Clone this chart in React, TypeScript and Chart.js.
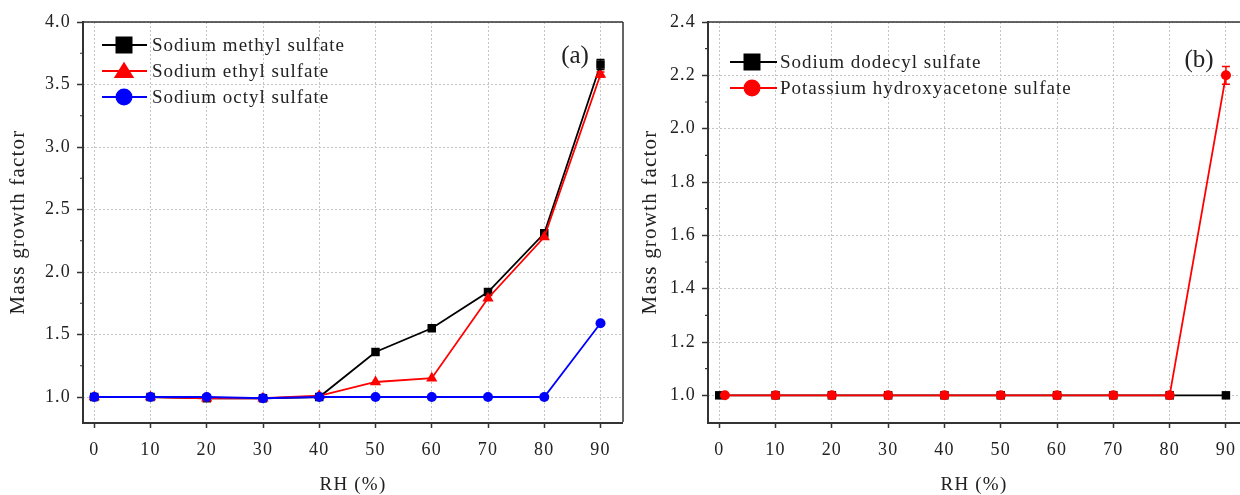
import React, { useEffect, useRef } from 'react';
import { Chart, registerables } from 'chart.js';

Chart.register(...registerables);

// ---------- data ----------
const rhTicks = [0, 10, 20, 30, 40, 50, 60, 70, 80, 90];

// Panel (a)
const rhA = [0, 10, 20, 30, 40, 50, 60, 70, 80, 90];
const methylSulfate = [1.0, 1.0, 0.99, 0.99, 1.0, 1.36, 1.55, 1.84, 2.31, 3.66];
const methylErr = [0, 0, 0, 0, 0, 0, 0, 0, 0, 0.04];
const ethylSulfate = [1.0, 1.0, 0.99, 0.99, 1.01, 1.12, 1.15, 1.79, 2.28, 3.58];
const ethylErr = [0, 0, 0, 0, 0, 0, 0, 0, 0, 0.02];
const octylSulfate = [1.0, 1.0, 1.0, 0.99, 1.0, 1.0, 1.0, 1.0, 1.0, 1.59];
const yTicksA = [1.0, 1.5, 2.0, 2.5, 3.0, 3.5, 4.0];

// Panel (b)
const rhSds = [0, 10, 20, 30, 40, 50, 60, 70, 80, 90];
const dodecylSulfate = [1.0, 1.0, 1.0, 1.0, 1.0, 1.0, 1.0, 1.0, 1.0, 1.0];
const rhHyd = [1, 10, 20, 30, 40, 50, 60, 70, 80, 90];
const hydroxyacetoneSulfate = [1.0, 1.0, 1.0, 1.0, 1.0, 1.0, 1.0, 1.0, 1.0, 2.2];
const hydroxyErr = [0, 0, 0, 0, 0, 0, 0, 0, 0, 0.033];
const yTicksB = [1.0, 1.2, 1.4, 1.6, 1.8, 2.0, 2.2, 2.4];

const labelsA = ['Sodium methyl sulfate', 'Sodium ethyl sulfate', 'Sodium octyl sulfate'];
const labelsB = ['Sodium dodecyl sulfate', 'Potassium hydroxyacetone sulfate'];

// ---------- styles ----------
const FONT = "'Liberation Serif', 'Times New Roman', serif";
const TEXT = '#222';
const AXIS = '#333';
const SPACING = '1.2px';

const toPts = (xs: number[], ys: number[]) => xs.map((x, i) => ({ x, y: ys[i] }));

type LegendCfg = { rows: number[]; lineX: [number, number]; markerX: number; textX: number };
type PanelCfg = {
  xMin: number; xMax: number; yMin: number; yMax: number;
  yTicks: number[]; yDigits: number;
  yWidth: number; padRight: number; yTitlePad: number;
  legend: LegendCfg; tag: string; tagX: number; tagY: number;
  rightBorder: boolean;
  datasets: any[];
};

function drawMarker(ctx: CanvasRenderingContext2D, style: string, x: number, y: number, s: number, color: string) {
  ctx.fillStyle = color;
  ctx.beginPath();
  if (style === 'rect') {
    ctx.rect(x - s / 2, y - s / 2, s, s);
  } else if (style === 'triangle') {
    const h = s * 0.9;
    ctx.moveTo(x, y - h * 0.6);
    ctx.lineTo(x + s * 0.6, y + h * 0.45);
    ctx.lineTo(x - s * 0.6, y + h * 0.45);
    ctx.closePath();
  } else {
    ctx.arc(x, y, s / 2, 0, Math.PI * 2);
  }
  ctx.fill();
}

const spacingPlugin = {
  id: 'spacing',
  beforeUpdate(chart: any) { chart.ctx.letterSpacing = SPACING; },
  beforeDraw(chart: any) { chart.ctx.letterSpacing = SPACING; },
};

const decorPlugin = {
  id: 'decor',
  afterDatasetsDraw(chart: any) {
    const ctx = chart.ctx as CanvasRenderingContext2D;
    const xs = chart.scales.x;
    const ys = chart.scales.y;
    // error bars
    chart.data.datasets.forEach((ds: any) => {
      if (!ds.errorBars) return;
      ctx.save();
      ctx.strokeStyle = ds.borderColor;
      ctx.lineWidth = 1.5;
      ds.data.forEach((p: any, i: number) => {
        const e = ds.errorBars[i];
        if (!e) return;
        const px = xs.getPixelForValue(p.x);
        const y1 = ys.getPixelForValue(p.y + e);
        const y2 = ys.getPixelForValue(p.y - e);
        ctx.beginPath();
        ctx.moveTo(px, y1); ctx.lineTo(px, y2);
        ctx.moveTo(px - 4, y1); ctx.lineTo(px + 4, y1);
        ctx.moveTo(px - 4, y2); ctx.lineTo(px + 4, y2);
        ctx.stroke();
      });
      ctx.restore();
    });
  },
  afterDraw(chart: any) {
    const ctx = chart.ctx as CanvasRenderingContext2D;
    const cfg: PanelCfg = chart.options.plugins.decor;
    const { left, right, top, bottom } = chart.chartArea;
    const ys = chart.scales.y;
    ctx.save();
    // frame
    ctx.strokeStyle = AXIS;
    ctx.lineWidth = 1.5;
    ctx.beginPath();
    ctx.moveTo(left, top); ctx.lineTo(right, top);
    if (cfg.rightBorder) { ctx.moveTo(right, top); ctx.lineTo(right, bottom); }
    ctx.stroke();
    ctx.lineWidth = 2;
    ctx.beginPath();
    ctx.moveTo(left, top - 1); ctx.lineTo(left, bottom + 1); ctx.lineTo(right, bottom + 1);
    ctx.stroke();
    // minor y ticks
    ctx.lineWidth = 1.2;
    ctx.beginPath();
    for (let i = 0; i < cfg.yTicks.length - 1; i++) {
      const v = (cfg.yTicks[i] + cfg.yTicks[i + 1]) / 2;
      const py = ys.getPixelForValue(v);
      ctx.moveTo(left, py); ctx.lineTo(left - 3, py);
    }
    ctx.stroke();
    // legend
    const lg = cfg.legend;
    chart.data.datasets.forEach((ds: any, i: number) => {
      const y = lg.rows[i];
      ctx.strokeStyle = ds.borderColor;
      ctx.lineWidth = 1.8;
      ctx.beginPath();
      ctx.moveTo(lg.lineX[0], y); ctx.lineTo(lg.lineX[1], y);
      ctx.stroke();
      drawMarker(ctx, ds.pointStyle, lg.markerX, y, 17, ds.backgroundColor);
      ctx.fillStyle = TEXT;
      ctx.font = `19px ${FONT}`;
      (ctx as any).letterSpacing = '1px';
      ctx.textAlign = 'left';
      ctx.textBaseline = 'middle';
      ctx.fillText(ds.label, lg.textX, y + 1);
    });
    // panel tag
    ctx.font = `25px ${FONT}`;
    (ctx as any).letterSpacing = '0px';
    ctx.fillStyle = TEXT;
    ctx.textAlign = 'center';
    ctx.textBaseline = 'middle';
    ctx.fillText(cfg.tag, cfg.tagX, cfg.tagY);
    ctx.restore();
  },
};

function makeConfig(cfg: PanelCfg): any {
  return {
    type: 'line',
    data: { datasets: cfg.datasets },
    plugins: [spacingPlugin, decorPlugin],
    options: {
      responsive: false,
      animation: false,
      events: [],
      layout: { autoPadding: false, padding: { left: 0, right: cfg.padRight, top: 22, bottom: 0 } },
      plugins: {
        legend: { display: false },
        tooltip: { enabled: false },
        decor: cfg,
      },
      scales: {
        x: {
          type: 'linear',
          min: cfg.xMin,
          max: cfg.xMax,
          afterBuildTicks: (s: any) => { s.ticks = rhTicks.map((v) => ({ value: v })); },
          afterFit: (s: any) => { s.height = 73; s.paddingLeft = 0; s.paddingRight = 0; },
          grid: {
            color: '#c4c4c4', lineWidth: 1, drawTicks: true, tickLength: 6,
            tickColor: AXIS, tickWidth: 1.5, tickBorderDash: [],
          },
          border: { display: false, dash: [2, 2] },
          ticks: {
            color: TEXT, padding: 11, maxRotation: 0,
            font: { family: FONT, size: 18, lineHeight: 1.2 },
            callback: (v: number) => String(v),
          },
          title: {
            display: true, text: 'RH (%)', color: TEXT,
            font: { family: FONT, size: 19, lineHeight: 1 }, padding: { top: 0, bottom: 0 },
          },
        },
        y: {
          type: 'linear',
          min: cfg.yMin,
          max: cfg.yMax,
          afterBuildTicks: (s: any) => { s.ticks = cfg.yTicks.map((v) => ({ value: v })); },
          afterFit: (s: any) => { s.width = cfg.yWidth; s.paddingTop = 0; s.paddingBottom = 0; },
          grid: {
            color: '#c4c4c4', lineWidth: 1, drawTicks: true, tickLength: 6,
            tickColor: AXIS, tickWidth: 1.5, tickBorderDash: [],
          },
          border: { display: false, dash: [2, 2] },
          ticks: {
            color: TEXT, padding: 6,
            font: { family: FONT, size: 18, lineHeight: 1.2 },
            callback: (v: number) => Number(v).toFixed(cfg.yDigits),
          },
          title: {
            display: true, text: 'Mass growth factor', color: TEXT,
            font: { family: FONT, size: 21, lineHeight: 1 }, padding: { top: cfg.yTitlePad, bottom: 0 },
          },
        },
      },
    },
  };
}

const series = (label: string, color: string, style: string, radius: number, xs: number[], ys: number[], order: number, err?: number[]) => ({
  label,
  data: toPts(xs, ys),
  borderColor: color,
  backgroundColor: color,
  pointStyle: style,
  pointRadius: radius,
  pointBorderWidth: 0,
  pointBorderColor: color,
  pointBackgroundColor: color,
  borderWidth: 1.8,
  tension: 0,
  order,
  errorBars: err,
});

const panelA: PanelCfg = {
  xMin: -2, xMax: 94, yMin: 0.8, yMax: 4.0,
  yTicks: yTicksA, yDigits: 1,
  yWidth: 83, padRight: 7, yTitlePad: 8,
  legend: { rows: [45, 71, 97], lineX: [102, 147], markerX: 124, textX: 152 },
  tag: '(a)', tagX: 575, tagY: 56, rightBorder: true,
  datasets: [
    series(labelsA[0], '#000000', 'rect', 6, rhA, methylSulfate, 2, methylErr),
    series(labelsA[1], '#ff0000', 'triangle', 6.5, rhA, ethylSulfate, 1, ethylErr),
    series(labelsA[2], '#0000ff', 'circle', 5, rhA, octylSulfate, 0),
  ],
};

const panelB: PanelCfg = {
  xMin: -2, xMax: 92.5, yMin: 0.9, yMax: 2.4,
  yTicks: yTicksB, yDigits: 1,
  yWidth: 78, padRight: 0, yTitlePad: 10,
  legend: { rows: [62, 88], lineX: [100, 147], markerX: 122, textX: 150 },
  tag: '(b)', tagX: 569, tagY: 60, rightBorder: false,
  datasets: [
    series(labelsB[0], '#000000', 'rect', 6, rhSds, dodecylSulfate, 1),
    series(labelsB[1], '#ff0000', 'circle', 5, rhHyd, hydroxyacetoneSulfate, 0, hydroxyErr),
  ],
};

function Panel({ cfg, left, width }: { cfg: PanelCfg; left: number; width: number }) {
  const ref = useRef<HTMLCanvasElement>(null);
  useEffect(() => {
    if (!ref.current) return;
    const chart = new Chart(ref.current, makeConfig(cfg));
    return () => chart.destroy();
  }, [cfg]);
  return (
    <canvas
      ref={ref}
      width={width}
      height={495}
      style={{ position: 'absolute', left, top: 0, width, height: 495 }}
    />
  );
}

export default function App() {
  return (
    <div style={{ position: 'absolute', left: 0, top: 0, width: 1240, height: 495, overflow: 'hidden', background: '#fff' }}>
      <Panel cfg={panelA} left={0} width={630} />
      <Panel cfg={panelB} left={630} width={610} />
    </div>
  );
}
